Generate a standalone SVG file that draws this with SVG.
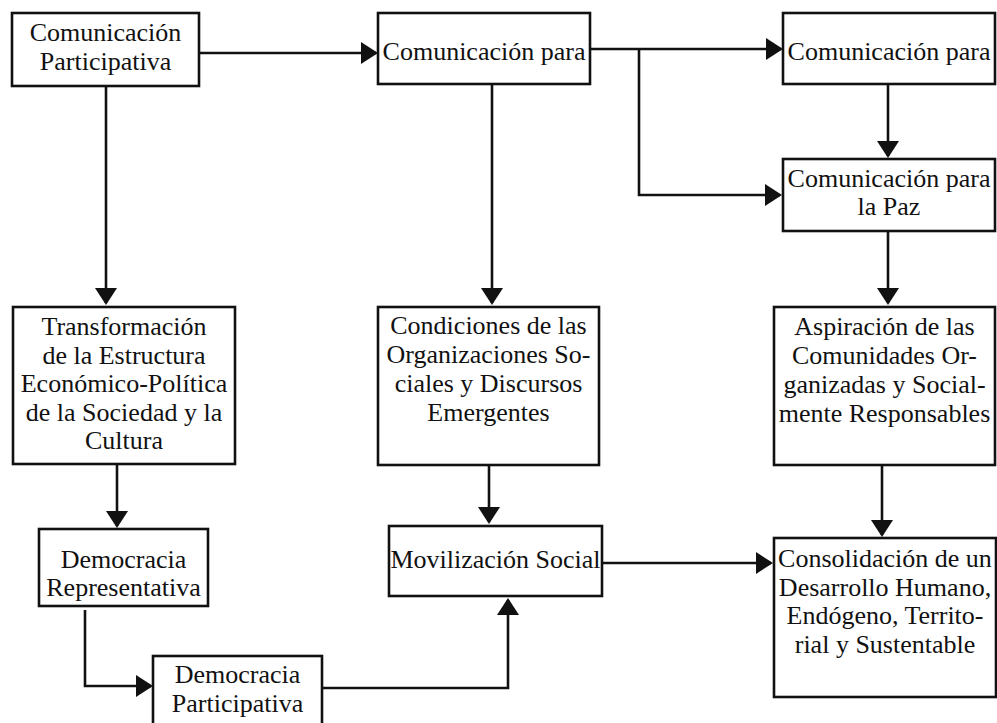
<svg xmlns="http://www.w3.org/2000/svg" width="997" height="723" viewBox="0 0 997 723">
<style>
.box{fill:#fff;stroke:#111;stroke-width:2.6}
.lbl{font-family:'Liberation Serif','Times New Roman',Tinos,'DejaVu Serif',serif;font-size:26px;fill:#111;text-anchor:middle}
.con{fill:none;stroke:#111;stroke-width:2.6}
</style>
<defs>
<marker id="arr" markerUnits="userSpaceOnUse" viewBox="0 0 17 22" markerWidth="17" markerHeight="22" refX="15" refY="11" orient="auto">
<path d="M0,0 L17,11 L0,22 Z" fill="#111"/>
</marker>
</defs>
<rect width="997" height="723" fill="#fff"/>
<g id="connectors">
<path class="con" d="M199,53 H376" marker-end="url(#arr)"/>
<path class="con" d="M590,49 H781" marker-end="url(#arr)"/>
<path class="con" d="M639,49 V195 H780" marker-end="url(#arr)"/>
<path class="con" d="M888,84 V156" marker-end="url(#arr)"/>
<path class="con" d="M888,231 V303" marker-end="url(#arr)"/>
<path class="con" d="M106,86 V303" marker-end="url(#arr)"/>
<path class="con" d="M492,84 V303" marker-end="url(#arr)"/>
<path class="con" d="M117,464 V526" marker-end="url(#arr)"/>
<path class="con" d="M85,610 V686 H151" marker-end="url(#arr)"/>
<path class="con" d="M489,465 V522" marker-end="url(#arr)"/>
<path class="con" d="M322,688 H508 V600" marker-end="url(#arr)"/>
<path class="con" d="M602,563 H771" marker-end="url(#arr)"/>
<path class="con" d="M882,465 V535" marker-end="url(#arr)"/>
</g>
<g font-family="Liberation Serif, Times New Roman, serif">
<g id="n1">
<rect class="box" x="12" y="13" width="187" height="73"/>
<text class="lbl" x="105.5" y="41">Comunicación</text>
<text class="lbl" x="105.5" y="70">Participativa</text>
</g>
<g id="n2">
<rect class="box" x="378" y="13" width="212" height="71"/>
<text class="lbl" x="484" y="60">Comunicación para</text>
</g>
<g id="n3">
<rect class="box" x="783" y="13" width="212" height="71"/>
<text class="lbl" x="889" y="60">Comunicación para</text>
</g>
<g id="n4">
<rect class="box" x="783" y="159" width="212" height="72"/>
<text class="lbl" x="889" y="187">Comunicación para</text>
<text class="lbl" x="889" y="215">la Paz</text>
</g>
<g id="n5">
<rect class="box" x="13" y="307" width="222" height="157"/>
<text class="lbl" x="124" y="335">Transformación</text>
<text class="lbl" x="124" y="363.5">de la Estructura</text>
<text class="lbl" x="124" y="392">Económico-Política</text>
<text class="lbl" x="124" y="420.5">de la Sociedad y la</text>
<text class="lbl" x="124" y="449">Cultura</text>
</g>
<g id="n6">
<rect class="box" x="378" y="307" width="221" height="158"/>
<text class="lbl" x="488.5" y="334">Condiciones de las</text>
<text class="lbl" x="488.5" y="363">Organizaciones So-</text>
<text class="lbl" x="488.5" y="392">ciales y Discursos</text>
<text class="lbl" x="488.5" y="421">Emergentes</text>
</g>
<g id="n7">
<rect class="box" x="774" y="307" width="221" height="158"/>
<text class="lbl" x="884.5" y="335">Aspiración de las</text>
<text class="lbl" x="884.5" y="364">Comunidades Or-</text>
<text class="lbl" x="884.5" y="393">ganizadas y Social-</text>
<text class="lbl" x="884.5" y="422">mente Responsables</text>
</g>
<g id="n8">
<rect class="box" x="39" y="529" width="169" height="77"/>
<text class="lbl" x="123.5" y="568">Democracia</text>
<text class="lbl" x="123.5" y="596">Representativa</text>
</g>
<g id="n9">
<rect class="box" x="389" y="526" width="213" height="70"/>
<text class="lbl" x="495.5" y="568">Movilización Social</text>
</g>
<g id="n10">
<rect class="box" x="774" y="538" width="222" height="159"/>
<text class="lbl" x="885" y="567">Consolidación de un</text>
<text class="lbl" x="885" y="596">Desarrollo Humano,</text>
<text class="lbl" x="885" y="624">Endógeno, Territo-</text>
<text class="lbl" x="885" y="653">rial y Sustentable</text>
</g>
<g id="n11">
<rect class="box" x="153" y="656" width="169" height="80"/>
<text class="lbl" x="237.5" y="683">Democracia</text>
<text class="lbl" x="237.5" y="712">Participativa</text>
</g>
</g>
</svg>
